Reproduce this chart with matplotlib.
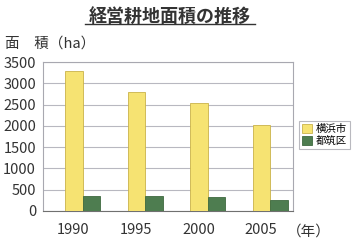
import matplotlib
matplotlib.use('Agg')
import matplotlib.pyplot as plt
import numpy as np

# Data.
Years = ['1990', '1995', '2000', '2005']
Yokohama = [3280, 2800, 2530, 2010]
Tsuzuki = [350, 345, 330, 250]
Labels = ['横浜市', '都筑区']
Colors = ['#F6E372', '#4E7D50']
Edges = ['#C9B24A', '#3E6A40']

plt.rcParams['font.family'] = ['Noto Sans CJK JP', 'DejaVu Sans']

fig = plt.figure(figsize=(3.56, 2.42), dpi=100)
fig.patch.set_facecolor('white')
ax = fig.add_axes([43 / 356, 1 - 211 / 242, 250 / 356, 149 / 242])

x = np.arange(len(Years))
w = 0.28
ax.bar(x - w, Yokohama, width=w, align='edge', color=Colors[0], edgecolor=Edges[0],
       linewidth=0.6, label=Labels[0], zorder=3)
ax.bar(x, Tsuzuki, width=w, align='edge', color=Colors[1], edgecolor=Edges[1],
       linewidth=0.6, label=Labels[1], zorder=3)

ax.set_xlim(-0.635, 3.36)
ax.set_ylim(0, 3500)
ax.set_yticks(range(0, 3501, 500))
ax.set_xticks(x - 0.15)
ax.set_xticklabels(Years)
ax.tick_params(axis='x', length=0, pad=9, labelsize=10.5, labelcolor='#333333')
ax.tick_params(axis='y', length=0, pad=5, labelsize=10.5, labelcolor='#333333')
ax.grid(axis='y', color='#B8B8C0', linewidth=0.8, zorder=0)
for s in ax.spines.values():
    s.set_color('#A8A8B0')
    s.set_linewidth(0.8)
ax.spines['bottom'].set_color('#707070')

fig.text(170 / 356, 1 - 16 / 242, '経営耕地面積の推移', ha='center', va='center',
         fontsize=13, fontweight='bold', color='#333333')
fig.lines.append(plt.Line2D([85 / 356, 255 / 356], [1 - 24 / 242, 1 - 24 / 242],
                            transform=fig.transFigure, color='#333333', linewidth=1))
fig.text(5 / 356, 1 - 44 / 242, '面\u3000積（ha）', ha='left', va='center',
         fontsize=10.5, color='#333333')
fig.text(287 / 356, 1 - 232 / 242, '（年）', ha='left', va='center',
         fontsize=10.5, color='#333333')

leg = ax.legend(loc='center left', bbox_to_anchor=(299 / 356, 1 - 135 / 242),
                bbox_transform=fig.transFigure, fontsize=7.5, frameon=True, fancybox=False,
                handlelength=0.9, handleheight=0.9, handletextpad=0.4, borderpad=0.3,
                labelspacing=0.2, borderaxespad=0)
leg.get_frame().set_edgecolor('#A8A8B0')
leg.get_frame().set_linewidth(0.8)

fig.savefig('out.png', dpi=100)
